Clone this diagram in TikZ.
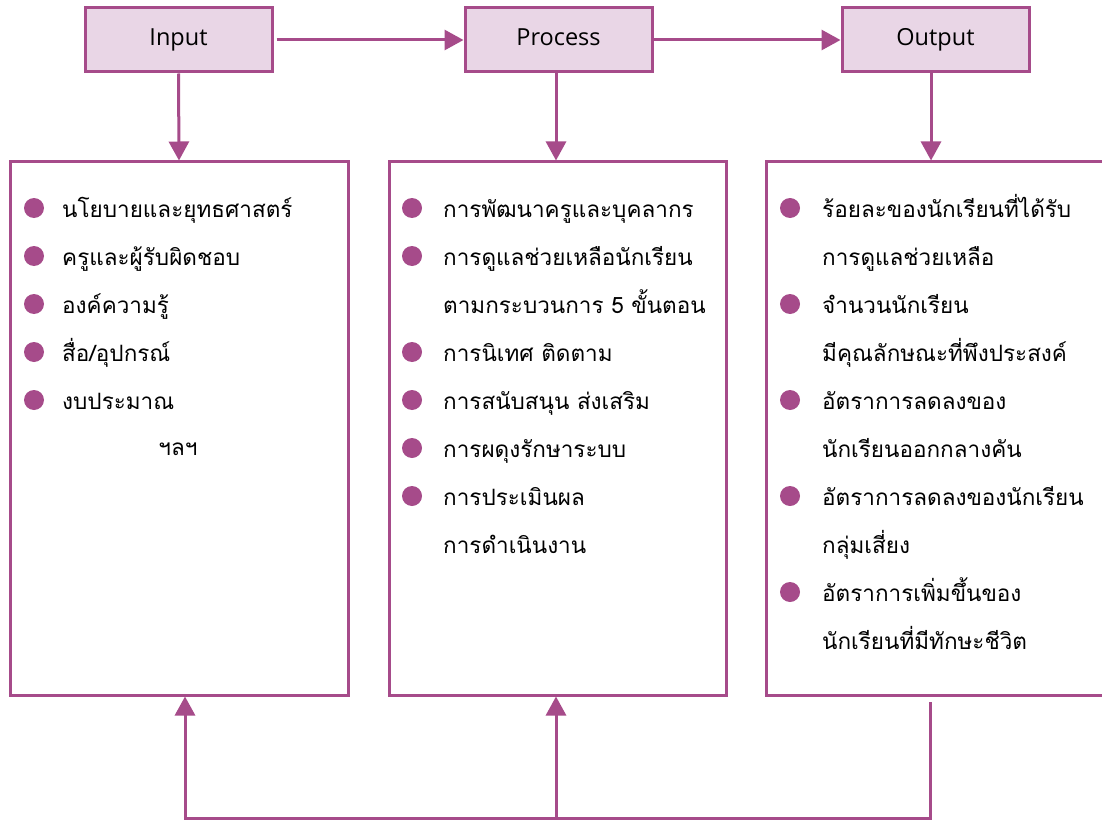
\documentclass[tikz,border=0pt]{standalone}
\usepackage{fontspec}
\setmainfont{Open Sans}
\newfontfamily\thaifont[Script=Thai]{Loma}
\usetikzlibrary{arrows.meta}
\definecolor{plum}{HTML}{A64B8A}
\definecolor{plumfill}{HTML}{E9D6E6}

\begin{document}
\begin{tikzpicture}[x=1pt,y=-1pt]
\tikzstyle{head}=[draw=plum,line width=3pt,fill=plumfill,minimum width=187pt,minimum height=64pt,inner sep=0pt,text height=17pt,text depth=5pt,font=\fontsize{23.5}{27}\selectfont]
\tikzstyle{panel}=[draw=plum,line width=3pt,minimum height=533pt,inner sep=0pt]
\tikzstyle{arr}=[plum,line width=3pt,-{Triangle[width=20pt,length=19pt]}]
\tikzstyle{item}=[anchor=base west,inner sep=0pt,font=\thaifont\fontsize{22.5}{26}\selectfont]
\tikzstyle{dot}=[fill=plum]
\useasboundingbox (0,0) rectangle (1102,821);

% headers
\node[head] (input) at (178.5,40) {Input};
\node[head] (process) at (558.5,40) {Process};
\node[head] (output) at (935.5,40) {Output};

% panels
\node[panel,minimum width=338pt] (inbox) at (179,428.5) {};
\node[panel,minimum width=337pt] (procbox) at (557.5,428.5) {};
\node[panel,minimum width=346pt] (outbox) at (939,428.5) {};

\draw[arr] ([xshift=3pt]input.east) -- (process.west);
\draw[arr] (process.east) -- (output.west);
\draw[arr] (input.south) -- (inbox.north);
\draw[arr] (process.south -| 556,0) -- (procbox.north -| 556,0);
\draw[arr] (output.south -| 931,0) -- (outbox.north -| 931,0);

% input items
\foreach \y/\b/\t [count=\i] in {208/1/นโยบายและยุทธศาสตร์,256/1/ครูและผู้รับผิดชอบ,304/1/องค์ความรู้,352/1/{สื่อ/อุปกรณ์},400/1/งบประมาณ}{
  \ifnum\b=1 \fill[dot] (34,\y) circle (10pt); \fi
  \node[item] (in\i) at (62,\y+9) {\t};
}
\node[item,anchor=base] (inetc) at (178,455) {ฯลฯ};

% process items
\foreach \y/\b/\t [count=\i] in {208/1/การพัฒนาครูและบุคลากร,256/1/การดูแลช่วยเหลือนักเรียน,304/0/ตามกระบวนการ 5 ขั้นตอน,352/1/การนิเทศ ติดตาม,400/1/การสนับสนุน ส่งเสริม,448/1/การผดุงรักษาระบบ,496/1/การประเมินผล,544/0/การดำเนินงาน}{
  \ifnum\b=1 \fill[dot] (412,\y) circle (10pt); \fi
  \node[item] (proc\i) at (443,\y+9) {\t};
}

% output items
\foreach \y/\b/\t [count=\i] in {208/1/ร้อยละของนักเรียนที่ได้รับ,256/0/การดูแลช่วยเหลือ,304/1/จำนวนนักเรียน,352/0/มีคุณลักษณะที่พึงประสงค์,400/1/อัตราการลดลงของ,448/0/นักเรียนออกกลางคัน,496/1/อัตราการลดลงของนักเรียน,544/0/กลุ่มเสี่ยง,592/1/อัตราการเพิ่มขึ้นของ,640/0/นักเรียนที่มีทักษะชีวิต}{
  \ifnum\b=1 \fill[dot] (790,\y) circle (10pt); \fi
  \node[item] (out\i) at (822,\y+9) {\t};
}

% feedback loop
\coordinate (looptop) at (930,702);
\coordinate (loopR) at (930,818);
\coordinate (loopL) at (185,818);
\draw[arr] (looptop) -- (loopR) -- (loopL) -- (loopL |- inbox.south);
\draw[arr] (loopR -| 556,0) -- (procbox.south -| 556,0);
\end{tikzpicture}
\end{document}
